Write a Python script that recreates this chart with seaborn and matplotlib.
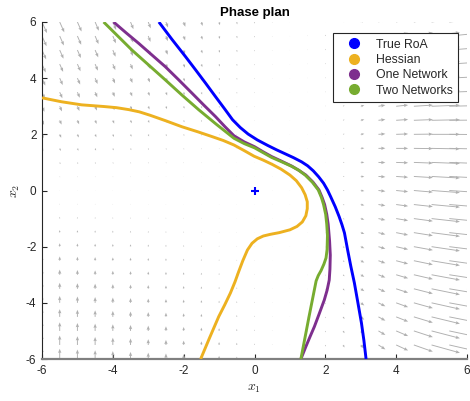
import numpy as np
import pandas as pd
import matplotlib
matplotlib.use("Agg")
import matplotlib.pyplot as plt
from matplotlib.lines import Line2D
import seaborn as sns

# ---- data ----
true_x = [-2.70, -2.33, -1.95, -1.66, -1.38, -1.10, -0.84, -0.62, -0.40, -0.18, 0.08, 0.38, 0.62, 0.86,
          1.10, 1.33, 1.50, 1.66, 1.81, 1.95, 2.06, 2.15, 2.28, 2.39, 2.47, 2.54, 2.63, 2.72, 2.82,
          2.92, 3.02, 3.09, 3.15]
true_y = [6.0, 5.38, 4.77, 4.29, 3.82, 3.34, 2.90, 2.52, 2.24, 2.01, 1.80, 1.60, 1.45, 1.31,
          1.17, 1.02, 0.88, 0.70, 0.49, 0.26, 0.02, -0.22, -0.58, -0.93, -1.22, -1.51, -2.12, -2.70, -3.29,
          -4.00, -4.72, -5.35, -6.0]

hess_x = [-6.0, -5.45, -4.88, -4.25, -3.90, -3.55, -3.25, -2.95, -2.50, -2.05, -1.60, -1.20, -0.88, -0.58,
          -0.29, -0.01, 0.25, 0.50, 0.75, 1.00, 1.18, 1.33, 1.43, 1.49, 1.49, 1.45, 1.35, 1.20, 1.00,
          0.70, 0.45, 0.25, 0.08, -0.07, -0.20, -0.33, -0.45, -0.55, -0.68, -0.84, -1.01, -1.27, -1.52]
hess_y = [3.30, 3.16, 3.05, 2.99, 2.95, 2.88, 2.80, 2.68, 2.48, 2.27, 2.09, 1.92, 1.78, 1.62,
          1.42, 1.22, 1.08, 0.93, 0.76, 0.55, 0.35, 0.10, -0.15, -0.40, -0.65, -0.90, -1.12, -1.28, -1.40,
          -1.50, -1.56, -1.62, -1.72, -1.88, -2.12, -2.50, -2.90, -3.25, -3.65, -4.07, -4.49, -5.25, -6.0]

one_x = [-3.98, -3.63, -3.27, -2.90, -2.52, -2.14, -1.76, -1.43, -1.10, -0.84, -0.58, -0.29, 0.0, 0.24,
         0.48, 0.77, 1.05, 1.25, 1.45, 1.65, 1.82, 1.91, 1.98, 2.04, 2.08, 2.12, 2.14, 2.13, 2.11,
         2.05, 1.97, 1.83, 1.69, 1.57, 1.45, 1.31]
one_y = [6.0, 5.62, 5.24, 4.83, 4.41, 3.94, 3.46, 3.04, 2.63, 2.28, 1.95, 1.73, 1.56, 1.38,
         1.21, 1.04, 0.87, 0.72, 0.55, 0.30, 0.02, -0.25, -0.50, -0.85, -1.20, -1.80, -2.30, -2.80, -3.19,
         -3.55, -3.90, -4.38, -4.85, -5.20, -5.56, -6.0]

two_x = [-4.26, -3.86, -3.46, -2.99, -2.52, -2.05, -1.57, -1.07, -0.58, -0.29, 0.0, 0.24, 0.48, 0.77,
         1.05, 1.25, 1.43, 1.63, 1.80, 1.89, 1.95, 2.01, 2.04, 2.06, 2.05, 2.02, 1.96, 1.88, 1.80,
         1.74, 1.54, 1.31]
two_y = [6.0, 5.50, 5.0, 4.47, 3.94, 3.40, 2.87, 2.35, 1.86, 1.67, 1.52, 1.35, 1.18, 1.02,
         0.86, 0.72, 0.55, 0.30, 0.02, -0.25, -0.50, -0.85, -1.20, -1.60, -2.10, -2.40, -2.62, -2.85, -3.03,
         -3.22, -4.49, -6.0]

labels = ["True RoA", "Hessian", "One Network", "Two Networks"]
colors = ["#0000FF", "#EDB120", "#7E2F8E", "#77AC30"]
ticks = [-6, -4, -2, 0, 2, 4, 6]

# ---- figure ----
sns.set_theme(style="white")
plt.rcParams["font.family"] = ["Liberation Sans", "DejaVu Sans"]
plt.rcParams["mathtext.fontset"] = "cm"

fig = plt.figure(figsize=(4.70, 4.01), dpi=100)
ax = fig.add_axes([42/470, 1-359/401, (467-42)/470, (359-22)/401])

# background vector field (phase portrait)
g = np.arange(-6, 6.01, 0.5)
X1, X2 = np.meshgrid(g, g)
rp = np.clip(X1 - 1, 0, None)
U = 0.08 * rp**3 + 0.025 * np.clip(X2, 0, None) * np.clip(-X1, 0, None)
V = 0.06 * X2 * (X1 - 1) - 0.03 * rp**2
ax.quiver(X1, X2, U, V, angles="xy", scale_units="xy", scale=6.4,
          color="#b0b0b0", width=0.0022, headwidth=3.6, headlength=4.5,
          headaxislength=4.0, minlength=0.3, minshaft=1.2, pivot="tail", zorder=1)

curves = [(true_x, true_y), (hess_x, hess_y), (one_x, one_y), (two_x, two_y)]
for (cx, cy), lab, col in zip(curves, labels, colors):
    df = pd.DataFrame({"x1": cx, "x2": cy})
    sns.lineplot(data=df, x="x1", y="x2", sort=False, estimator=None,
                 color=col, lw=2.1, ax=ax, zorder=3)
for l in ax.lines:
    l.set_solid_joinstyle("round")
    l.set_solid_capstyle("butt")

ax.plot([0], [0], marker="+", color="#0000FF", ms=6, mew=1.5, ls="none", zorder=4)

ax.set_xlim(-6, 6)
ax.set_ylim(-6, 6)
ax.set_xticks(ticks)
ax.set_yticks(ticks)
ax.set_xticklabels([str(t) for t in ticks])
ax.set_yticklabels([str(t) for t in ticks])
ax.tick_params(direction="in", length=3.5, width=0.8, labelsize=8.5,
               colors="#262626", bottom=True, left=True, top=False, right=False, pad=4)
for s in ["top", "right"]:
    ax.spines[s].set_visible(False)
ax.spines["left"].set_color("#262626")
ax.spines["left"].set_linewidth(0.8)
ax.spines["bottom"].set_color("#808080")
ax.spines["bottom"].set_linewidth(1.6)
ax.set_xlabel("$x_1$", fontsize=10, color="#262626", labelpad=3)
ax.set_ylabel("$x_2$", fontsize=10, color="#262626", labelpad=3)
ax.set_title("Phase plan", fontsize=9.5, fontweight="bold", color="black", pad=4)

handles = [Line2D([], [], marker="o", ls="none", color=c, ms=7) for c in colors]
leg = ax.legend(handles, labels, loc="upper right",
                bbox_to_anchor=((458-42)/(467-42), (359-33)/(359-22)),
                fontsize=8.8, frameon=True, fancybox=False, framealpha=1,
                edgecolor="#262626", borderpad=0.45, handletextpad=0.6,
                labelspacing=0.28, handlelength=2.4, borderaxespad=0)
leg.get_frame().set_linewidth(0.8)
leg.set_zorder(5)

fig.savefig("out.png", dpi=100)
